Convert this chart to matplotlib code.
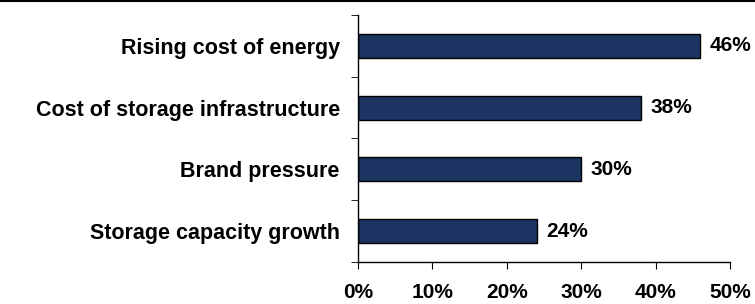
import matplotlib.pyplot as plt
from matplotlib.lines import Line2D
from matplotlib.ticker import FuncFormatter, FixedLocator

plt.rcParams["font.family"] = ["Liberation Sans", "DejaVu Sans"]
plt.rcParams["font.weight"] = "bold"

# Дані
categories = ["Rising cost of energy", "Cost of storage infrastructure",
              "Brand pressure", "Storage capacity growth"]
values = [46, 38, 30, 24]
x_ticks = [0, 10, 20, 30, 40, 50]

fig = plt.figure(figsize=(7.55, 3.04), dpi=100)
ax = fig.add_axes([0.474, 0.138, 0.493, 0.813])

pos = list(range(len(categories)))
ax.barh(pos, values, height=0.39, color="#1b3461", edgecolor="black", linewidth=1)
for p, v in zip(pos, values):
    ax.text(v + 1.3, p, f"{v}%", va="center", ha="left", fontsize=15, fontweight="bold")

ax.set_ylim(3.5, -0.5)
ax.set_xlim(0, 50)
ax.set_yticks(pos)
ax.set_yticklabels(categories, fontsize=15.5, fontweight="bold")
ax.tick_params(axis="y", length=0, pad=13)
ax.yaxis.set_minor_locator(FixedLocator([-0.5, 0.5, 1.5, 2.5, 3.5]))
ax.tick_params(axis="y", which="minor", length=5, direction="out")

ax.set_xticks(x_ticks)
ax.xaxis.set_major_formatter(FuncFormatter(lambda x, _: f"{x:.0f}%"))
ax.tick_params(axis="x", length=5, direction="out", pad=10, labelsize=15)

for s in ["top", "right"]:
    ax.spines[s].set_visible(False)
for s in ["left", "bottom"]:
    ax.spines[s].set_linewidth(1)

fig.add_artist(Line2D([0, 1], [0.996, 0.996], transform=fig.transFigure,
                      color="black", linewidth=1.5))

fig.savefig("out.png", dpi=100)
